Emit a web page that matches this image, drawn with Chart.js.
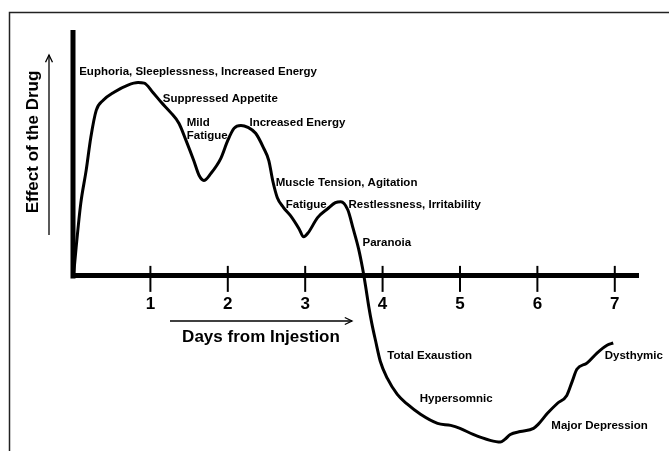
<!DOCTYPE html>
<html>
<head>
<meta charset="utf-8">
<script src="https://cdn.jsdelivr.net/npm/chart.js@4/dist/chart.umd.min.js"></script>
<style>
  html, body { margin: 0; padding: 0; background: #fff; }
  #wrap { width: 669px; height: 451px; }
</style>
</head>
<body>
<div id="wrap"><canvas id="drugChart" width="669" height="451"></canvas></div>
<script>
// day ticks on the axis
const dayTicks = [1, 2, 3, 4, 5, 6, 7];

// curve (days after injection, effect level)
const curveDays = [0.01, 0.04, 0.10, 0.17, 0.23, 0.30, 0.39, 0.53, 0.71, 0.84, 0.92, 1.03, 1.14, 1.26, 1.37, 1.46,
  1.56, 1.63, 1.69, 1.78, 1.91, 2.00, 2.08, 2.17, 2.26, 2.36, 2.46, 2.53, 2.58, 2.64, 2.72, 2.81, 2.92,
  2.98, 3.04, 3.16, 3.29, 3.39, 3.46, 3.55, 3.62, 3.69, 3.74, 3.78, 3.82, 3.86, 3.91, 3.97, 4.06, 4.19,
  4.32, 4.49, 4.71, 4.88, 5.00, 5.17, 5.39, 5.52, 5.58, 5.65, 5.78, 5.95, 6.01, 6.13, 6.26, 6.38, 6.45,
  6.51, 6.64, 6.77, 6.90, 6.98];
const curveEffect = [0.12, 1.14, 2.94, 4.29, 5.63, 6.73, 7.14, 7.47, 7.76, 7.86, 7.84, 7.47, 7.06, 6.65, 6.20, 5.51,
  4.69, 4.08, 3.88, 4.16, 4.78, 5.51, 6.00, 6.12, 6.04, 5.80, 5.22, 4.69, 3.88, 3.18, 2.78, 2.45, 1.92,
  1.59, 1.76, 2.37, 2.73, 2.98, 3.02, 2.69, 1.92, 1.10, 0.33, -0.41, -1.22, -1.92, -2.65, -3.47, -4.16, -4.82,
  -5.22, -5.63, -6.00, -6.08, -6.20, -6.45, -6.69, -6.76, -6.65, -6.45, -6.33, -6.20, -6.04, -5.59, -5.18, -4.86, -4.29,
  -3.80, -3.55, -3.14, -2.82, -2.73];

// stage notes and where they sit (day, level)
const noteLabels = ["Euphoria, Sleeplessness, Increased Energy", "Suppressed Appetite", "Mild", "Fatigue",
  "Increased Energy", "Muscle Tension, Agitation", "Fatigue", "Restlessness, Irritability", "Paranoia",
  "Total Exaustion", "Hypersomnic", "Major Depression", "Dysthymic"];
const noteDays = [0.08, 1.16, 1.47, 1.47, 2.28, 2.62, 2.75, 3.56, 3.74, 4.06, 4.48, 6.18, 6.87];
const noteLevels = [8.29, 7.22, 6.24, 5.71, 6.24, 3.80, 2.90, 2.90, 1.35, -3.27, -5.02, -6.08, -3.27];

const yTitle = "Effect of the Drug";
const xTitle = "Days from Injestion";

const FONT = "'Liberation Sans', Arial, sans-serif";

function arrow(ctx, x1, y1, x2, y2) {
  const a = Math.atan2(y2 - y1, x2 - x1);
  ctx.beginPath();
  ctx.moveTo(x1, y1);
  ctx.lineTo(x2, y2);
  ctx.stroke();
  ctx.beginPath();
  ctx.moveTo(x2 - 8 * Math.cos(a - 0.45), y2 - 8 * Math.sin(a - 0.45));
  ctx.lineTo(x2, y2);
  ctx.lineTo(x2 - 8 * Math.cos(a + 0.45), y2 - 8 * Math.sin(a + 0.45));
  ctx.stroke();
}

const sketchParts = {
  id: "sketchParts",
  beforeDraw(chart) {
    const ctx = chart.ctx;
    ctx.save();
    ctx.fillStyle = "#fff";
    ctx.fillRect(0, 0, chart.width, chart.height);
    // frame
    ctx.strokeStyle = "#222";
    ctx.lineWidth = 1.5;
    ctx.beginPath();
    ctx.moveTo(9.5, chart.height);
    ctx.lineTo(9.5, 12.5);
    ctx.lineTo(chart.width, 12.5);
    ctx.stroke();
    ctx.restore();
  },
  afterDraw(chart) {
    const ctx = chart.ctx;
    const xs = chart.scales.x, ys = chart.scales.y;
    const x0 = xs.getPixelForValue(0);
    const y0 = ys.getPixelForValue(0);
    ctx.save();
    ctx.strokeStyle = "#000";
    ctx.fillStyle = "#000";

    // vertical axis, only above zero
    ctx.lineWidth = 5;
    ctx.beginPath();
    ctx.moveTo(x0, ys.top);
    ctx.lineTo(x0, y0 + 2.5);
    ctx.stroke();

    // tick marks crossing the axis
    ctx.lineWidth = 2;
    xs.ticks.forEach((t) => {
      const px = xs.getPixelForValue(t.value);
      ctx.beginPath();
      ctx.moveTo(px, y0 - 10);
      ctx.lineTo(px, y0 + 16);
      ctx.stroke();
    });

    // notes
    ctx.font = "bold 11.5px " + FONT;
    ctx.textBaseline = "middle";
    ctx.textAlign = "left";
    noteLabels.forEach((txt, i) => {
      ctx.fillText(txt, xs.getPixelForValue(noteDays[i]), ys.getPixelForValue(noteLevels[i]));
    });

    // y title + arrow
    ctx.font = "bold 17px " + FONT;
    ctx.textAlign = "center";
    ctx.save();
    ctx.translate(x0 - 40, 142);
    ctx.rotate(-Math.PI / 2);
    ctx.fillText(yTitle, 0, 0);
    ctx.restore();
    ctx.lineWidth = 1.3;
    arrow(ctx, x0 - 24, 235, x0 - 24, 55);

    // x title + arrow
    ctx.fillText(xTitle, 261, 337);
    arrow(ctx, 170, 321, 352, 321);

    ctx.restore();
  }
};

new Chart(document.getElementById("drugChart"), {
  type: "line",
  data: {
    datasets: [{
      label: "Effect",
      data: curveDays.map((d, i) => ({ x: d, y: curveEffect[i] })),
      borderColor: "#000",
      borderWidth: 3,
      pointRadius: 0,
      cubicInterpolationMode: "monotone",
      fill: false
    }]
  },
  options: {
    responsive: false,
    animation: false,
    layout: { padding: { left: 73, top: 30, right: 31, bottom: 3 } },
    plugins: {
      legend: { display: false },
      tooltip: { enabled: false }
    },
    scales: {
      x: {
        type: "linear",
        min: 0,
        max: 7.3,
        position: { y: 0 },
        afterBuildTicks: (s) => { s.ticks = dayTicks.map((v) => ({ value: v })); },
        grid: { display: true, drawOnChartArea: false, drawTicks: false },
        border: { display: true, color: "#000", width: 5 },
        ticks: {
          autoSkip: false,
          maxRotation: 0,
          padding: 18,
          color: "#000",
          font: { family: FONT, size: 17, weight: "bold" }
        }
      },
      y: {
        type: "linear",
        min: -7,
        max: 10,
        display: false
      }
    }
  },
  plugins: [sketchParts]
});
</script>
</body>
</html>
